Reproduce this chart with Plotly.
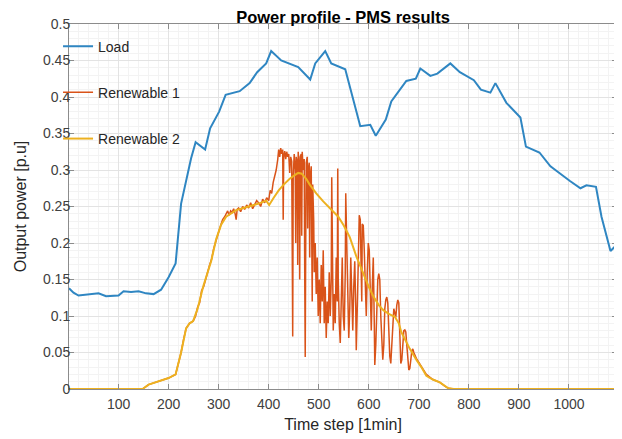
import plotly.graph_objects as go

# ---------------- data ----------------
load_t = [1, 10, 20, 40, 60, 75, 90, 100, 110, 125, 140, 155, 170, 185, 200, 214, 225, 235, 245, 254,
          273, 283, 301, 314, 342, 362, 377, 395, 405, 425, 459, 483, 493, 513, 525, 553, 583, 603, 614,
          634, 645, 675, 694, 703, 723, 737, 763, 782, 810, 824, 843, 853, 875, 903, 914, 941, 963, 1002,
          1023, 1035, 1054, 1065, 1083, 1096]
load_p = [0.138, 0.132, 0.128, 0.129, 0.131, 0.127, 0.128, 0.128, 0.134, 0.133, 0.134, 0.131, 0.130,
          0.136, 0.153, 0.172, 0.254, 0.287, 0.316, 0.338, 0.328, 0.357, 0.380, 0.403, 0.408, 0.419,
          0.434, 0.446, 0.463, 0.450, 0.441, 0.424, 0.446, 0.463, 0.446, 0.438, 0.360, 0.362, 0.347,
          0.369, 0.394, 0.422, 0.425, 0.439, 0.429, 0.432, 0.446, 0.434, 0.423, 0.410, 0.406, 0.419,
          0.392, 0.372, 0.332, 0.324, 0.305, 0.285, 0.275, 0.279, 0.277, 0.236, 0.189, 0.198]

ren2_t = [1, 148, 160, 180, 200, 214, 225, 235, 242, 249, 258, 269, 278, 285, 295, 305, 315, 325, 335,
          350, 362, 380, 395, 401, 410, 420, 430, 442, 452, 459, 466, 475, 482, 495, 509, 522, 539, 550,
          562, 575, 589, 600, 609, 620, 629, 640, 652, 660, 665, 672, 682, 695, 705, 715, 728, 742, 759,
          770, 1096]
ren2_p = [0, 0, 0.006, 0.010, 0.015, 0.020, 0.050, 0.083, 0.090, 0.093, 0.110, 0.140, 0.160, 0.175,
          0.205, 0.225, 0.236, 0.241, 0.245, 0.248, 0.250, 0.254, 0.258, 0.252, 0.262, 0.272, 0.280,
          0.288, 0.293, 0.296, 0.295, 0.288, 0.280, 0.268, 0.257, 0.248, 0.236, 0.224, 0.208, 0.182,
          0.158, 0.140, 0.127, 0.115, 0.108, 0.103, 0.099, 0.090, 0.078, 0.068, 0.055, 0.040, 0.030,
          0.018, 0.013, 0.009, 0.001, 0, 0]

ren1_t = [1, 148, 160, 180, 200, 214, 220, 225, 230, 235, 242, 249, 254, 258, 262, 266, 270, 274, 278,
          282, 286, 290, 295, 300, 305, 308, 312, 315, 318, 321, 324, 327, 330, 333, 335, 337, 340, 344,
          348, 352, 356, 360, 364, 368, 372, 376, 380, 384, 388, 392, 396, 400, 403, 406, 409, 412, 415,
          418, 420, 422, 424, 426, 428, 429, 430, 432, 434, 436, 438, 440, 442, 444, 446, 447, 448, 449,
          451, 453, 454, 455, 457, 458, 459, 461, 462, 463, 465, 466, 467, 469, 471, 472, 473, 474, 475,
          477, 478, 479, 481, 482, 483, 485, 486, 487, 488, 490, 491, 493, 495, 497, 499, 501, 503, 505,
          507, 509, 511, 513, 515, 517, 519, 521, 523, 525, 526, 527, 529, 531, 533, 535, 537, 538, 539,
          541, 543, 545, 547, 549, 551, 553, 554, 556, 558, 560, 562, 564, 566, 568, 570, 572, 574, 575,
          577, 579, 581, 583, 585, 586, 587, 589, 591, 593, 595, 597, 599, 601, 603, 605, 607, 609, 611,
          612, 614, 616, 618, 620, 622, 624, 626, 628, 630, 632, 634, 636, 638, 640, 642, 644, 646, 648,
          650, 652, 654, 656, 658, 660, 662, 664, 666, 668, 670, 672, 674, 676, 678, 680, 682, 684, 686,
          688, 690, 695, 700, 705, 715, 728, 742, 752, 759, 770, 1096]
ren1_p = [0, 0, 0.006, 0.010, 0.015, 0.020, 0.035, 0.050, 0.068, 0.083, 0.090, 0.093, 0.100, 0.112,
          0.118, 0.135, 0.140, 0.152, 0.160, 0.170, 0.178, 0.192, 0.205, 0.215, 0.226, 0.232, 0.236,
          0.240, 0.244, 0.238, 0.244, 0.242, 0.247, 0.240, 0.232, 0.246, 0.248, 0.243, 0.250, 0.246,
          0.252, 0.248, 0.255, 0.247, 0.252, 0.258, 0.255, 0.250, 0.260, 0.255, 0.262, 0.258, 0.272,
          0.268, 0.283, 0.292, 0.300, 0.314, 0.328, 0.318, 0.330, 0.322, 0.328, 0.232, 0.318, 0.326,
          0.315, 0.325, 0.318, 0.322, 0.296, 0.318, 0.312, 0.200, 0.072, 0.290, 0.322, 0.300, 0.200,
          0.318, 0.310, 0.170, 0.325, 0.300, 0.150, 0.318, 0.322, 0.210, 0.325, 0.300, 0.315, 0.160,
          0.044, 0.200, 0.310, 0.318, 0.220, 0.300, 0.310, 0.180, 0.290, 0.305, 0.150, 0.120, 0.280,
          0.230, 0.160, 0.200, 0.130, 0.180, 0.100, 0.150, 0.090, 0.170, 0.120, 0.190, 0.090, 0.140,
          0.070, 0.120, 0.090, 0.160, 0.100, 0.150, 0.290, 0.150, 0.080, 0.130, 0.090, 0.180, 0.120,
          0.302, 0.150, 0.090, 0.063, 0.120, 0.180, 0.100, 0.080, 0.160, 0.268, 0.200, 0.120, 0.070,
          0.110, 0.180, 0.130, 0.080, 0.140, 0.175, 0.110, 0.053, 0.110, 0.190, 0.238, 0.232, 0.170,
          0.120, 0.226, 0.224, 0.190, 0.130, 0.100, 0.160, 0.200, 0.190, 0.120, 0.080, 0.140, 0.180,
          0.090, 0.033, 0.060, 0.120, 0.150, 0.158, 0.150, 0.100, 0.060, 0.040, 0.060, 0.110, 0.122,
          0.126, 0.118, 0.080, 0.045, 0.035, 0.060, 0.100, 0.110, 0.105, 0.098, 0.115, 0.122, 0.118,
          0.070, 0.035, 0.040, 0.070, 0.080, 0.081, 0.078, 0.060, 0.035, 0.026, 0.028, 0.045, 0.052,
          0.055, 0.050, 0.042, 0.036, 0.030, 0.020, 0.013, 0.009, 0.004, 0.001, 0, 0]

x_ticks = [100, 200, 300, 400, 500, 600, 700, 800, 900, 1000]
y_ticks = [0, 0.05, 0.1, 0.15, 0.2, 0.25, 0.3, 0.35, 0.4, 0.45, 0.5]
y_tick_text = ["0", "0.05", "0.1", "0.15", "0.2", "0.25", "0.3", "0.35", "0.4", "0.45", "0.5"]

# ---------------- figure ----------------
C_LOAD = "#2f86c2"
C_R1 = "#d95319"
C_R2 = "#edb120"
FONT = "Liberation Sans, Arial, sans-serif"

fig = go.Figure()
fig.add_trace(go.Scatter(x=load_t, y=load_p, mode="lines", name="Load", showlegend=True,
                         line=dict(color=C_LOAD, width=2), legend="legend"))
fig.add_trace(go.Scatter(x=ren1_t, y=ren1_p, mode="lines", name="Renewable 1", showlegend=True,
                         line=dict(color=C_R1, width=1.5), legend="legend2"))
fig.add_trace(go.Scatter(x=ren2_t, y=ren2_p, mode="lines", name="Renewable 2", showlegend=True,
                         line=dict(color=C_R2, width=2), legend="legend3"))

leg_common = dict(bgcolor="rgba(0,0,0,0)", borderwidth=0, xanchor="left", yanchor="middle",
                  font=dict(family=FONT, size=14, color="#262626"), itemclick=False,
                  visible=True)

axis_common = dict(showline=True, linecolor="#8c8c8c", linewidth=1, mirror="ticks",
                   ticks="inside", ticklen=5, tickcolor="#8c8c8c",
                   showgrid=True, gridcolor="#e3e3e3", gridwidth=1, zeroline=False,
                   tickfont=dict(family=FONT, size=14, color="#404040"))

# page has an 8px body margin, so the figure is sized to fit the 622x439 window
fig.update_layout(
    width=614, height=431,
    margin=dict(l=61, r=5, t=16, b=50),
    paper_bgcolor="white", plot_bgcolor="white",
    font=dict(family=FONT),
    showlegend=True,
    title=dict(text="<b>Power profile - PMS results</b>", x=0.5, xref="paper", xanchor="center",
               y=0.979, yref="container", yanchor="middle",
               font=dict(family=FONT, size=16.5, color="#000000")),
    legend=dict(x=-0.02, y=0.938, **leg_common),
    legend2=dict(x=-0.02, y=0.812, **leg_common),
    legend3=dict(x=-0.02, y=0.685, **leg_common),
    xaxis=dict(range=[1, 1096], tickvals=x_ticks, ticklabelstandoff=2,
               minor=dict(dtick=20, showgrid=True, gridcolor="#f3f3f3", ticks=""),
               title=dict(text="Time step [1min]", standoff=8,
                          font=dict(family=FONT, size=16, color="#262626")),
               **axis_common),
    yaxis=dict(range=[0, 0.5], tickvals=y_ticks, ticktext=y_tick_text, ticklabelstandoff=-5,
               minor=dict(dtick=0.01, showgrid=True, gridcolor="#f3f3f3", ticks=""),
               title=dict(text="Output power [p.u]", standoff=12,
                          font=dict(family=FONT, size=16, color="#262626")),
               **axis_common),
)

fig.write_html("out.html")
